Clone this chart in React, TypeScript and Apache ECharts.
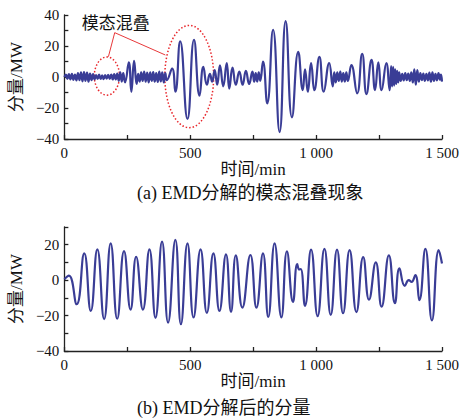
import React, { useEffect, useRef } from 'react';
import * as echarts from 'echarts';

// ---------- data ----------
const xTickValues = [0, 500, 1000, 1500];
const xTickLabels = ['0', '500', '1 000', '1 500'];

// (a) EMD component showing mode mixing: time (min) and value (MW)
const topX = [
  0, 6, 12, 18, 24, 30, 36, 42, 48, 54, 60, 66, 72, 78, 84, 90, 96, 102, 108, 114,
  120, 126, 132, 138, 144, 150, 156, 162, 168, 174, 180, 186, 192, 198, 204, 210, 216, 222, 228, 234,
  241, 256, 266, 277, 287, 293, 299, 305, 311, 317, 323, 329, 335, 341, 347, 353, 359, 365, 371, 377,
  383, 389, 395, 401, 407, 428, 441, 460, 489, 515, 537, 552, 566, 578, 587, 597, 607, 618, 631, 645,
  655, 668, 681, 695, 708, 721, 734, 747, 754, 760, 766, 772, 778, 789, 806, 829, 855, 879, 904, 929,
  947, 956, 967, 980, 993, 1013, 1030, 1052, 1066, 1072, 1078, 1084, 1090, 1096, 1102, 1108, 1114, 1120, 1126, 1140,
  1163, 1183, 1200, 1220, 1234, 1247, 1260, 1279, 1292, 1298, 1302, 1306, 1310, 1314, 1318, 1322, 1326, 1330, 1336, 1342,
  1348, 1354, 1360, 1366, 1372, 1378, 1384, 1390, 1396, 1402, 1408, 1414, 1420, 1426, 1432, 1438, 1444, 1450, 1456, 1462,
  1468, 1474, 1480, 1486, 1492, 1496, 1500,
];
const topY = [
  0, 1.5, -1.2, 1.8, -1.5, 2, -1.8, 1.6, -2.2, 2.5, -2, 3, -2.8, 3.2, -2.5, 2.8, -3, 2.2, -2, 1.8,
  -1.5, 1.2, -1.3, 1.5, -1.2, 1, -1.4, 1.2, -1, 1.4, -1.2, 1.5, -1.6, 1.8, -1.5, 2.2, -2.5, 3, -3, 2.5,
  -3.5, 9.5, -9.5, 10.5, -4.5, 2, -3, 3, -2.5, 3.5, -3, 2.8, -3.5, 3, -2.5, 3.2, -3, 2.5, -3.2, 3.5,
  -2.8, 3, -3.5, 2.5, -2, 5.5, -9.5, 23, -27, 24, -12, 6.5, -5, 2, -3, 4.5, -5, 7.5, -6, 9,
  -7.5, 6, -5, 3.5, -5, 4, -4.5, 3.5, -3, 2.5, -3, 3, -2.5, 10, -17, 30.5, -35.5, 36, -26, 16.3,
  -8.5, 5, -9.5, 9, -8.5, 13, -9.5, 9, -6, 3, -3.5, 3, -2.5, 3.5, -3, 2.5, -3, 3, -2.5, 7.7,
  -10.5, 15, -11, 11, -8.5, 9.5, -8.5, 9, -8.5, 7, -6, 6.5, -5.5, 5, -4.5, 4, -3.5, 3, -2.5, 2,
  -2.2, 2.5, -2, 2.2, -2.5, 3, -3.5, 5, -5, 4.5, -3, 2.5, -2, 2.2, -2.5, 2, -2.2, 2.8, -3, 3,
  -2.5, 2, -2.2, 2.5, -1.8, 1.5, -3,
];

// (b) component after EMD decomposition
const botX = [
  0, 18, 49, 79, 105, 131, 158, 184, 210, 237, 263, 285, 312, 338, 362, 388, 412, 441, 463, 489,
  513, 541, 566, 592, 616, 642, 662, 681, 707, 739, 763, 789, 810, 835, 862, 884, 908, 925, 933, 939,
  956, 980, 1006, 1033, 1058, 1083, 1107, 1133, 1160, 1187, 1210, 1237, 1260, 1289, 1313, 1331, 1352, 1368, 1379, 1394,
  1410, 1434, 1460, 1487, 1500,
];
const botY = [
  0.5, 2.5, -13.6, 15.1, -17.4, 17.4, -22, 20.8, -21.8, 16.4, -16.6, 13.2, -16.6, 17.4, -21.3, 21.7, -24, 22.7, -24.9, 20.8,
  -21.1, 17.4, -18.5, 15.1, -17.4, 14.5, -17.9, 14, -15.5, 14.2, -15.5, 15.1, -20.8, 20.8, -21, 16.2, -12.3, 9, 6, 6.3,
  -14.5, 17.2, -20.3, 17.6, -19.6, 17.2, -18.7, 17, -18, 13, -11, 10, -15, 14, -13, 6.6, -3.2, 0, -1, 2.8,
  -11.3, 17.6, -22.7, 17, 9.4,
];

// annotation ellipses in data units (x min, y MW)
const ellipseCx = [169, 496];
const ellipseCy = [0.6, 0.3];
const ellipseRx = [50, 97];
const ellipseRy = [12.3, 33];
const annotText = '模态混叠';
const annotTextPos = [204, 34.5];
const leaderStart = [200, 28.6];
const leaderEndX = [175, 401];
const leaderEndY = [13.1, 14.2];

const captions = ['(a) EMD分解的模态混叠现象', '(b) EMD分解后的分量'];

const FONT = "'Liberation Serif', 'Noto Sans CJK SC', serif";
const LINE_COLOR = '#3a3d96';
const AXIS_COLOR = '#222';

const fmtY = (v: number) => (v % 20 === 0 ? (v < 0 ? '\u2212' + String(-v) : String(v)) : '');
const fmtX = (v: number) => {
  const k = xTickValues.indexOf(v);
  return k >= 0 ? xTickLabels[k] : '';
};

export default function App() {
  const ref = useRef<HTMLDivElement>(null);
  useEffect(() => {
    if (!ref.current) return;
    const chart = echarts.init(ref.current, undefined, { renderer: 'svg' });
    const xAxisBase = (gi: number) => ({
      gridIndex: gi,
      type: 'value',
      min: 0,
      max: 1500,
      interval: 250,
      axisLine: { show: true, onZero: false, lineStyle: { color: AXIS_COLOR, width: 1.3 } },
      axisTick: { show: true, inside: true, length: 4, lineStyle: { color: AXIS_COLOR, width: 1.3 } },
      splitLine: { show: false },
      axisLabel: { margin: 6, color: '#111', fontSize: 15, fontFamily: FONT, formatter: fmtX },
      name: '时间/min',
      nameLocation: 'middle',
      nameGap: 22,
      nameTextStyle: { fontSize: 17, color: '#111', fontFamily: FONT },
    });
    const yAxisBase = (gi: number, min: number, max: number) => ({
      gridIndex: gi,
      type: 'value',
      min,
      max,
      interval: 10,
      axisLine: { show: true, onZero: false, lineStyle: { color: AXIS_COLOR, width: 1.3 } },
      axisTick: { show: true, inside: true, length: 4, lineStyle: { color: AXIS_COLOR, width: 1.3 } },
      splitLine: { show: false },
      axisLabel: { margin: 5, color: '#111', fontSize: 15, fontFamily: FONT, formatter: fmtY },
      name: '分量/MW',
      nameLocation: 'middle',
      nameGap: 39,
      nameTextStyle: { fontSize: 17, color: '#111', fontFamily: FONT },
    });
    const topData = topX.map((x, i) => [x, topY[i]]);
    const botData = botX.map((x, i) => [x, botY[i]]);
    chart.setOption({
      animation: false,
      backgroundColor: '#fff',
      grid: [
        { left: 62, right: 23, top: 15, height: 124 },
        { left: 62, right: 23, top: 227, height: 124 },
      ],
      xAxis: [xAxisBase(0), xAxisBase(1)],
      yAxis: [yAxisBase(0, -40, 40), yAxisBase(1, -40, 30)],
      series: [
        {
          type: 'line', xAxisIndex: 0, yAxisIndex: 0, data: topData, showSymbol: false, smooth: 0.5,
          lineStyle: { color: LINE_COLOR, width: 2.2 }, silent: true,
        },
        {
          type: 'line', xAxisIndex: 1, yAxisIndex: 1, data: botData, showSymbol: false, smooth: 0.5,
          lineStyle: { color: LINE_COLOR, width: 2.2 }, silent: true,
        },
      ],
    });

    const toPx = (x: number, y: number) =>
      chart.convertToPixel({ xAxisIndex: 0, yAxisIndex: 0 } as any, [x, y]) as number[];
    const graphics: any[] = [];
    ellipseCx.forEach((cx, i) => {
      const c = toPx(cx, ellipseCy[i]);
      const e = toPx(cx + ellipseRx[i], ellipseCy[i] + ellipseRy[i]);
      graphics.push({
        type: 'ellipse',
        silent: true,
        shape: { cx: c[0], cy: c[1], rx: Math.abs(e[0] - c[0]), ry: Math.abs(e[1] - c[1]) },
        style: { fill: 'none', stroke: '#e8262b', lineWidth: 1.5, lineDash: [1.5, 2] },
      });
    });
    const s = toPx(leaderStart[0], leaderStart[1]);
    leaderEndX.forEach((ex, i) => {
      const e = toPx(ex, leaderEndY[i]);
      graphics.push({
        type: 'line',
        silent: true,
        shape: { x1: s[0], y1: s[1], x2: e[0], y2: e[1] },
        style: { stroke: '#e8383a', lineWidth: 1 },
      });
    });
    const tp = toPx(annotTextPos[0], annotTextPos[1]);
    graphics.push({
      type: 'text',
      silent: true,
      x: tp[0],
      y: tp[1],
      style: {
        text: annotText, fontSize: 17, fontFamily: FONT, fill: '#111',
        textAlign: 'center', textVerticalAlign: 'middle', align: 'center', verticalAlign: 'middle',
      },
    });
    const capY = [193, 408];
    captions.forEach((c, i) => {
      graphics.push({
        type: 'text',
        silent: true,
        x: 137,
        y: capY[i],
        style: {
          text: c, fontSize: 18, fontFamily: FONT, fill: '#111',
          textAlign: 'left', textVerticalAlign: 'middle', align: 'left', verticalAlign: 'middle',
        },
      });
    });
    chart.setOption({ graphic: graphics });

    return () => chart.dispose();
  }, []);
  return (
    <div style={{ position: 'absolute', left: 0, top: 0, width: 465, height: 419, background: '#fff' }}>
      <div ref={ref} style={{ width: 465, height: 419 }} />
    </div>
  );
}
